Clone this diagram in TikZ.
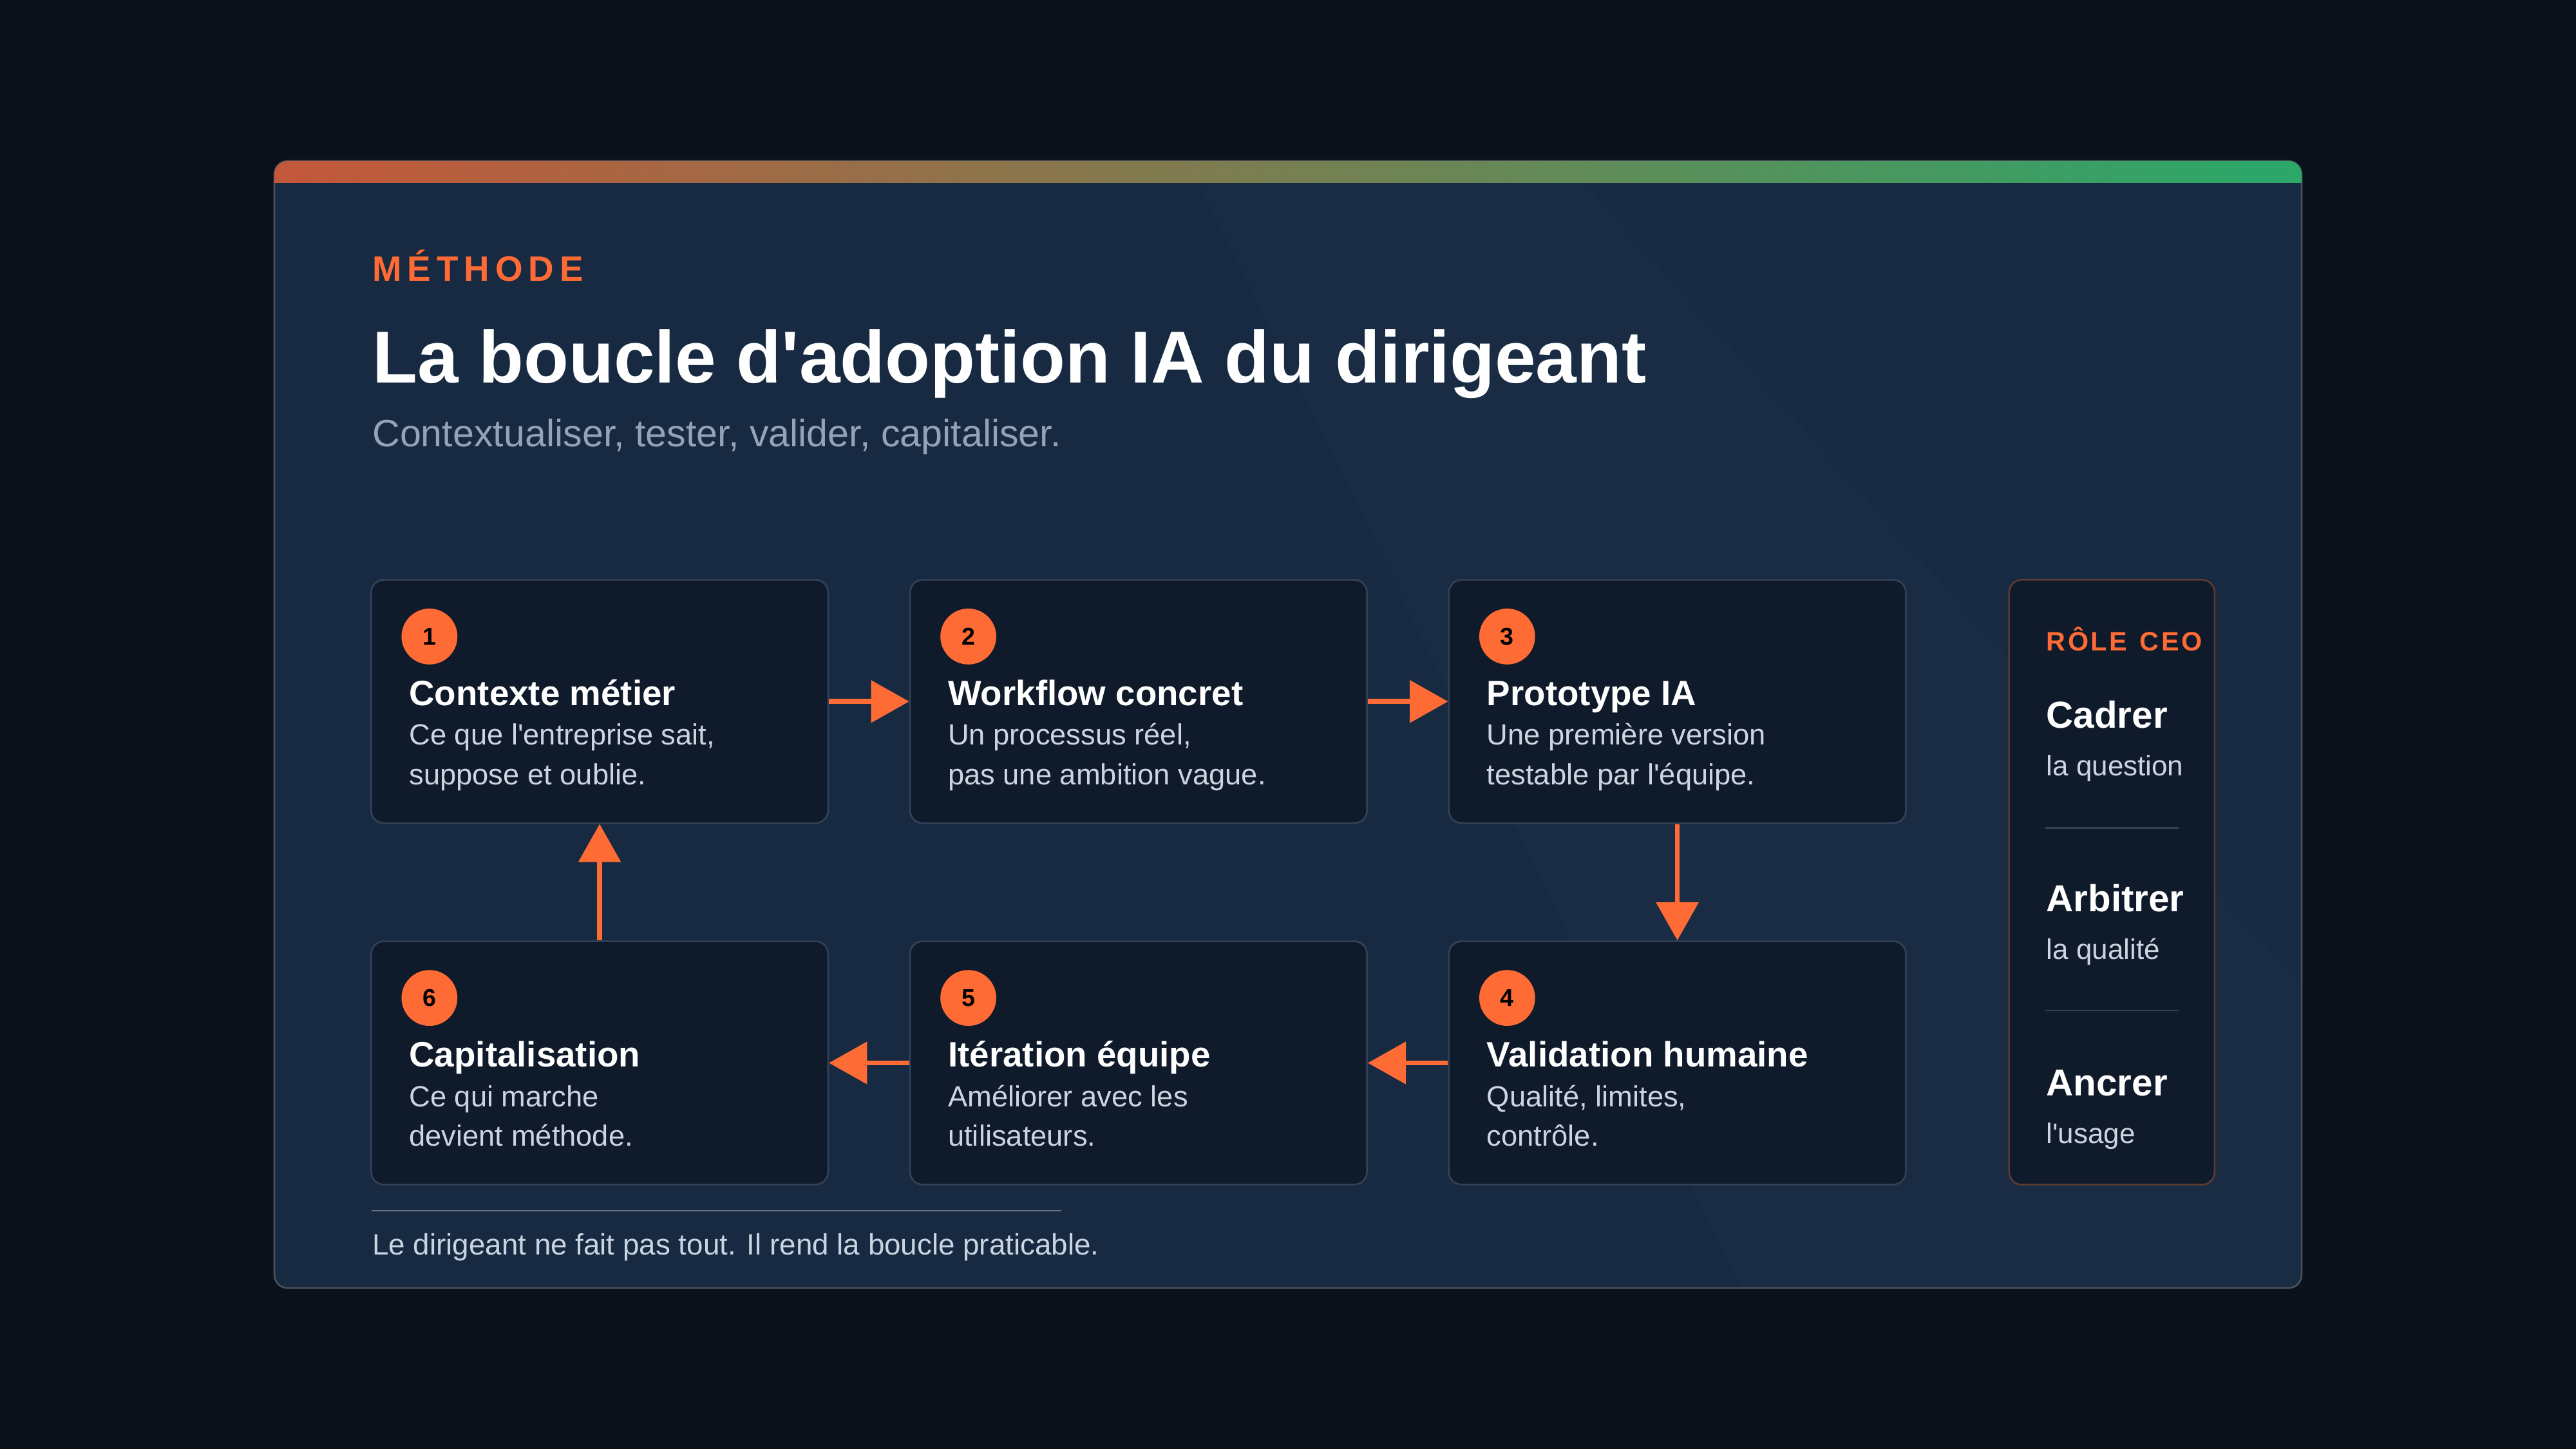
\documentclass[tikz,border=0pt]{standalone}
\usepackage{fontspec}
\setmainfont{Liberation Sans}[Ligatures=TeXOff]
\usetikzlibrary{arrows.meta,positioning}
\definecolor{pagebg}{HTML}{0A111B}
\definecolor{cardbg}{HTML}{172A42}
\definecolor{cardline}{HTML}{4A4F58}
\definecolor{stepbg}{HTML}{0F1A2A}
\definecolor{stepline}{HTML}{334155}
\definecolor{looporange}{HTML}{FF6B35}
\definecolor{barorange}{HTML}{C4573A}
\definecolor{bargreen}{HTML}{2AA86A}
\definecolor{softtext}{HTML}{CBD5E1}
\definecolor{mutedtext}{HTML}{94A3B8}
\definecolor{roleline}{HTML}{5A3A34}
\newcommand{\px}[1]{\fontsize{#1pt}{1.25\dimexpr#1pt\relax}\selectfont}

\begin{document}
\begin{tikzpicture}[x=0.01cm, y=-0.01cm,
    txt/.style={anchor=base west, inner sep=0pt},
    stepbox/.style={draw=stepline, line width=0.3pt, fill=stepbg, rounded corners=2.2pt,
      minimum width=2.78cm, minimum height=1.48cm, inner sep=0pt},
    badge/.style={circle, fill=looporange, minimum size=0.34cm, inner sep=0pt,
      font=\bfseries\px{4.2}, text=black},
    steptitle/.style={txt, text=white, font=\bfseries\px{6.1}},
    stepdesc/.style={txt, text=softtext, font=\px{5.05}},
    flow/.style={looporange, line width=0.85pt, -{Triangle[length=6.6pt, width=7.2pt]}}]
        % Page and card
        \fill[pagebg] (0,0) rectangle (1568,882);
        \fill[cardbg, draw=cardline, line width=0.3pt, rounded corners=2.3pt] (167,98) rectangle (1401,784);
        \fill[white, opacity=0.012] (730,112) -- (965,112) -- (1401,600) -- (1401,784) -- (1060,784) -- cycle;
        \begin{scope}
          \clip[rounded corners=2.3pt] (167,98) rectangle (1401,130);
          \shade[left color=barorange, right color=bargreen] (167,98) rectangle (1401,111);
        \end{scope}

        % Headings
        \node[txt, text=looporange, font=\bfseries\px{6.1}] (kicker) at (226,171)
          {M\kern1ptÉ\kern1ptT\kern1ptH\kern1ptO\kern1ptD\kern1ptE};
        \node[txt, text=white, font=\bfseries\px{12.75}] (title) at (226,233)
          {La boucle d'adoption IA du dirigeant};
        \node[txt, text=mutedtext, font=\px{6.6}] (subtitle) at (226,272)
          {Contextualiser, tester, valider, capitaliser.};

        % Steps
        \foreach \name/\x/\y/\num/\head/\la/\lb in {
            s1/365/427/1/Contexte métier/{Ce que l'entreprise sait,}/suppose et oublie.,
            s2/693/427/2/Workflow concret/{Un processus réel,}/pas une ambition vague.,
            s3/1021/427/3/Prototype IA/Une première version/testable par l'équipe.,
            s4/1021/647/4/Validation humaine/{Qualité, limites,}/contrôle.,
            s5/693/647/5/Itération équipe/Améliorer avec les/utilisateurs.,
            s6/365/647/6/Capitalisation/Ce qui marche/devient méthode.} {
          \node[stepbox] (\name) at (\x,\y) {};
          \node[badge] (\name-num) at ([xshift=0.36cm, yshift=-0.35cm]\name.north west) {\num};
          \node[steptitle] (\name-head) at ([xshift=0.23cm, yshift=-0.77cm]\name.north west) {\head};
          \node[stepdesc] (\name-la) at ([xshift=0.23cm, yshift=-1.01cm]\name.north west) {\la};
          \node[stepdesc] (\name-lb) at ([xshift=0.23cm, yshift=-1.25cm]\name.north west) {\lb};
        }

        % Loop arrows
        \draw[flow] (s1) -- (s2);
        \draw[flow] (s2) -- (s3);
        \draw[flow] (s3) -- (s4);
        \draw[flow] (s4) -- (s5);
        \draw[flow] (s5) -- (s6);
        \draw[flow] (s6) -- (s1);

        % CEO role panel
        \node[draw=roleline, line width=0.3pt, fill=stepbg, rounded corners=2.2pt,
          minimum width=1.25cm, minimum height=3.68cm, inner sep=0pt] (role) at (1285.5,537) {};
        \node[txt, text=looporange, font=\bfseries\px{4.6}] (role-head) at (1245,396)
          {R\kern.4ptÔ\kern.4ptL\kern.4ptE\kern2.2ptC\kern.4ptE\kern.4ptO};
        \foreach \name/\y/\act/\obj in {cadrer/443/Cadrer/la question,
            arbitrer/555/Arbitrer/la qualité, ancrer/667/Ancrer/l'usage} {
          \node[txt, text=white, font=\bfseries\px{6.5}] (\name) at (1245,\y) {\act};
          \node[txt, text=softtext, font=\px{4.9}] (\name-obj) at (1245,\y+29) {\obj};
        }
        \draw[stepline, line width=0.3pt] (1245,504) -- (1326,504);
        \draw[stepline, line width=0.3pt] (1245,615) -- (1326,615);

        % Footer
        \draw[mutedtext!60!cardbg, line width=0.3pt] (226,737) -- (646,737);
        \node[txt, text=softtext, font=\px{5.1}] (footer) at (226,764)
          {Le dirigeant ne fait pas tout. Il rend la boucle praticable.};
      \end{tikzpicture}
\end{document}
